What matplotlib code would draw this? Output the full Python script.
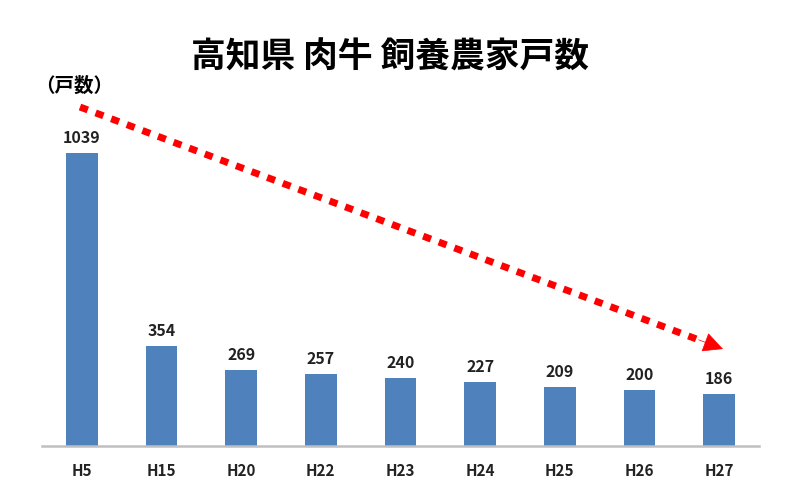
import numpy as np
import matplotlib.pyplot as plt

plt.rcParams['font.family'] = ['Noto Sans CJK JP', 'DejaVu Sans']

# データ
years = ['H5', 'H15', 'H20', 'H22', 'H23', 'H24', 'H25', 'H26', 'H27']
farms = [1039, 354, 269, 257, 240, 227, 209, 200, 186]

fig = plt.figure(figsize=(7.89, 4.99), dpi=100)
ax = fig.add_axes([0.0532, 0.1062, 0.9088, 0.6774])

x = np.arange(len(years))
ax.bar(x, farms, width=0.4, color='#4F81BD')

# 値ラベル
for xi, v in zip(x, farms):
    ax.text(xi, v + 25, str(v), ha='center', va='bottom', fontsize=11.5, fontweight='bold', color='#222222')

ax.set_xlim(-0.5, len(years) - 0.5)
ax.set_ylim(0, 1200)
ax.set_xticks(x)
ax.set_xticklabels(years, fontsize=11, fontweight='bold', color='#222222')
ax.tick_params(axis='x', length=0, pad=12)
ax.set_yticks([])
for s in ['top', 'right', 'left']:
    ax.spines[s].set_visible(False)
ax.spines['bottom'].set_color('#BFBFBF')
ax.spines['bottom'].set_linewidth(1.8)

# タイトルと単位
fig.text(0.494, 0.886, '高知県 肉牛 飼養農家戸数', ha='center', va='center', fontsize=25, fontweight='bold')
fig.text(0.044, 0.827, '（戸数）', ha='left', va='center', fontsize=14, fontweight='bold')

# 減少を示す赤い点線の矢印 (ピクセル座標 -> 図座標)
W, H = 789, 499
x0, y0 = 80, 107
x1, y1 = 723, 349
d = np.hypot(x1 - x0, y1 - y0)
ux, uy = (x1 - x0) / d, (y1 - y0) / d
hl = 24
xe, ye = x1 - ux * hl, y1 - uy * hl
fig.add_artist(plt.Line2D([x0 / W, xe / W], [1 - y0 / H, 1 - ye / H], transform=fig.transFigure,
                          color='#FF0000', linewidth=5, linestyle=(0, (1.2, 1.2)), dash_capstyle='butt'))
ax.annotate('', xy=(x1 / W, 1 - y1 / H), xycoords='figure fraction',
            xytext=((x1 - ux * (hl + 2)) / W, 1 - (y1 - uy * (hl + 2)) / H), textcoords='figure fraction',
            arrowprops=dict(arrowstyle='-|>,head_length=1.3,head_width=0.65', color='#FF0000',
                            lw=0.5, shrinkA=0, shrinkB=0))

plt.savefig('out.png', dpi=100)
